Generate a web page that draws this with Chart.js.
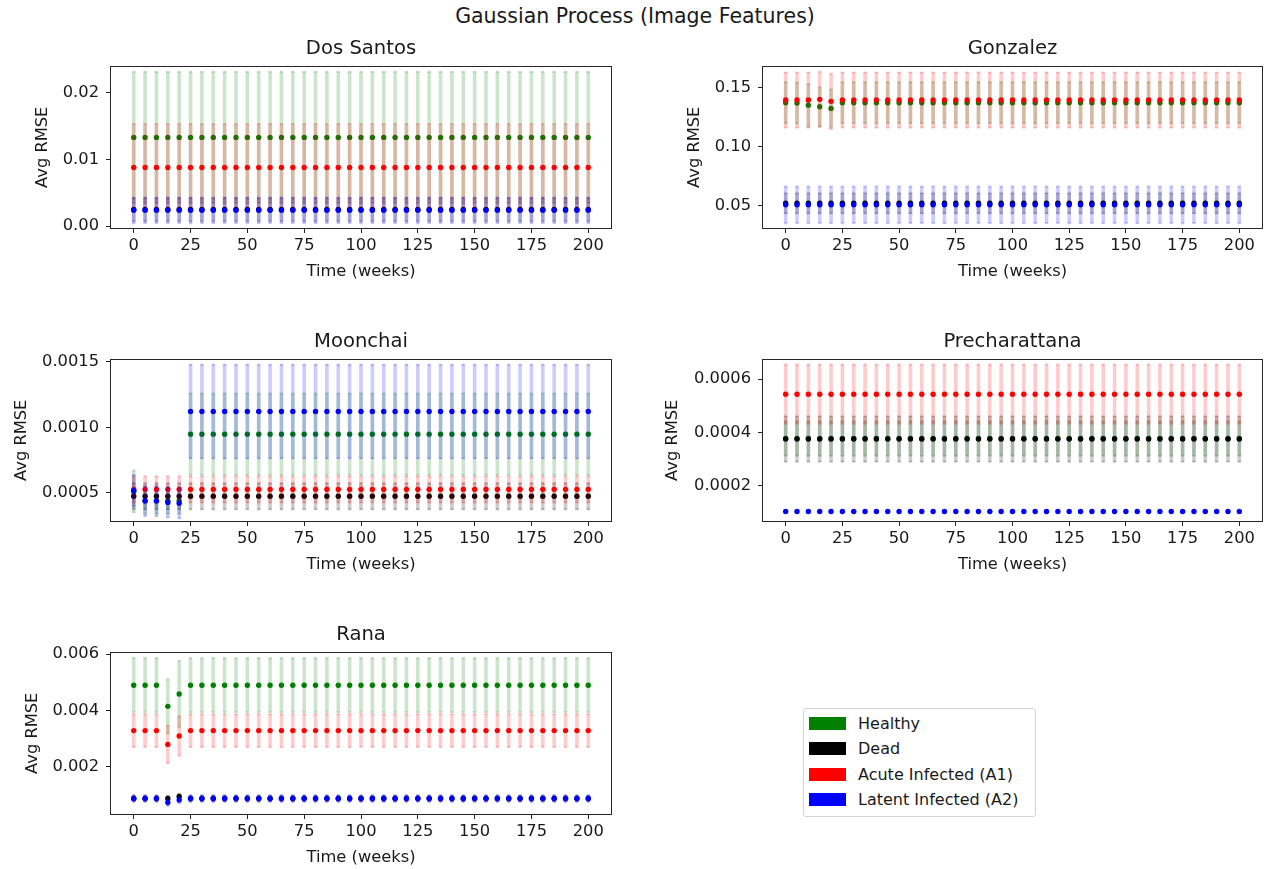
<!DOCTYPE html>
<html><head><meta charset="utf-8">
<script src="https://cdn.jsdelivr.net/npm/chart.js@4.4.0/dist/chart.umd.min.js"></script>
<style>
body{margin:0;background:#fff;width:1270px;height:869px;position:relative;overflow:hidden;font-family:"DejaVu Sans",sans-serif;}
canvas{position:absolute;}
#sup{position:absolute;left:0;width:1270px;top:4px;text-align:center;font-size:20.5px;color:#1a1a1a;line-height:24px;}
#legend{position:absolute;left:803px;top:708px;width:233px;height:109px;border:1px solid #d5d5d5;border-radius:3px;box-sizing:border-box;background:#fff;}
.item{position:absolute;left:0;height:22px;width:230px;}
.patch{position:absolute;left:5px;top:4px;width:37px;height:13px;}
.lab{position:absolute;left:54px;top:0;font-size:16px;line-height:22px;color:#1a1a1a;white-space:nowrap;}
</style>
</head><body>
<div id="sup">Gaussian Process (Image Features)</div>
<div id="legend"></div>
<script>
const weeks = [0,5,10,15,20,25,30,35,40,45,50,55,60,65,70,75,80,85,90,95,100,105,110,115,120,125,130,135,140,145,150,155,160,165,170,175,180,185,190,195,200];
const xTicks = [0,25,50,75,100,125,150,175,200];
const seriesNames = ['Healthy','Dead','Acute Infected (A1)','Latent Infected (A2)'];

// Dos Santos
const dsYTicks = [0, 0.01, 0.02];
const dsYLabels = ['0.00','0.01','0.02'];
const dsHealthyMean = [0.0133,0.0133,0.0133,0.0133,0.0133,0.0133,0.0133,0.0133,0.0133,0.0133,0.0133,0.0133,0.0133,0.0133,0.0133,0.0133,0.0133,0.0133,0.0133,0.0133,0.0133,0.0133,0.0133,0.0133,0.0133,0.0133,0.0133,0.0133,0.0133,0.0133,0.0133,0.0133,0.0133,0.0133,0.0133,0.0133,0.0133,0.0133,0.0133,0.0133,0.0133];
const dsHealthyStd = [0.0098,0.0098,0.0098,0.0098,0.0098,0.0098,0.0098,0.0098,0.0098,0.0098,0.0098,0.0098,0.0098,0.0098,0.0098,0.0098,0.0098,0.0098,0.0098,0.0098,0.0098,0.0098,0.0098,0.0098,0.0098,0.0098,0.0098,0.0098,0.0098,0.0098,0.0098,0.0098,0.0098,0.0098,0.0098,0.0098,0.0098,0.0098,0.0098,0.0098,0.0098];
const dsDeadMean = [0.0025,0.0025,0.0025,0.0025,0.0025,0.0025,0.0025,0.0025,0.0025,0.0025,0.0025,0.0025,0.0025,0.0025,0.0025,0.0025,0.0025,0.0025,0.0025,0.0025,0.0025,0.0025,0.0025,0.0025,0.0025,0.0025,0.0025,0.0025,0.0025,0.0025,0.0025,0.0025,0.0025,0.0025,0.0025,0.0025,0.0025,0.0025,0.0025,0.0025,0.0025];
const dsDeadStd = [0.0017,0.0017,0.0017,0.0017,0.0017,0.0017,0.0017,0.0017,0.0017,0.0017,0.0017,0.0017,0.0017,0.0017,0.0017,0.0017,0.0017,0.0017,0.0017,0.0017,0.0017,0.0017,0.0017,0.0017,0.0017,0.0017,0.0017,0.0017,0.0017,0.0017,0.0017,0.0017,0.0017,0.0017,0.0017,0.0017,0.0017,0.0017,0.0017,0.0017,0.0017];
const dsAcuteMean = [0.0088,0.0088,0.0088,0.0088,0.0088,0.0088,0.0088,0.0088,0.0088,0.0088,0.0088,0.0088,0.0088,0.0088,0.0088,0.0088,0.0088,0.0088,0.0088,0.0088,0.0088,0.0088,0.0088,0.0088,0.0088,0.0088,0.0088,0.0088,0.0088,0.0088,0.0088,0.0088,0.0088,0.0088,0.0088,0.0088,0.0088,0.0088,0.0088,0.0088,0.0088];
const dsAcuteStd = [0.0065,0.0065,0.0065,0.0065,0.0065,0.0065,0.0065,0.0065,0.0065,0.0065,0.0065,0.0065,0.0065,0.0065,0.0065,0.0065,0.0065,0.0065,0.0065,0.0065,0.0065,0.0065,0.0065,0.0065,0.0065,0.0065,0.0065,0.0065,0.0065,0.0065,0.0065,0.0065,0.0065,0.0065,0.0065,0.0065,0.0065,0.0065,0.0065,0.0065,0.0065];
const dsLatentMean = [0.0024,0.0024,0.0024,0.0024,0.0024,0.0024,0.0024,0.0024,0.0024,0.0024,0.0024,0.0024,0.0024,0.0024,0.0024,0.0024,0.0024,0.0024,0.0024,0.0024,0.0024,0.0024,0.0024,0.0024,0.0024,0.0024,0.0024,0.0024,0.0024,0.0024,0.0024,0.0024,0.0024,0.0024,0.0024,0.0024,0.0024,0.0024,0.0024,0.0024,0.0024];
const dsLatentStd = [0.0019,0.0019,0.0019,0.0019,0.0019,0.0019,0.0019,0.0019,0.0019,0.0019,0.0019,0.0019,0.0019,0.0019,0.0019,0.0019,0.0019,0.0019,0.0019,0.0019,0.0019,0.0019,0.0019,0.0019,0.0019,0.0019,0.0019,0.0019,0.0019,0.0019,0.0019,0.0019,0.0019,0.0019,0.0019,0.0019,0.0019,0.0019,0.0019,0.0019,0.0019];

// Gonzalez
const gzYTicks = [0.05, 0.10, 0.15];
const gzYLabels = ['0.05','0.10','0.15'];
const gzHealthyMean = [0.1372,0.1370,0.1352,0.1338,0.1324,0.1372,0.1372,0.1372,0.1372,0.1372,0.1372,0.1372,0.1372,0.1372,0.1372,0.1372,0.1372,0.1372,0.1372,0.1372,0.1372,0.1372,0.1372,0.1372,0.1372,0.1372,0.1372,0.1372,0.1372,0.1372,0.1372,0.1372,0.1372,0.1372,0.1372,0.1372,0.1372,0.1372,0.1372,0.1372,0.1372];
const gzHealthyStd = [0.0175,0.0175,0.0180,0.0165,0.0160,0.0175,0.0175,0.0175,0.0175,0.0175,0.0175,0.0175,0.0175,0.0175,0.0175,0.0175,0.0175,0.0175,0.0175,0.0175,0.0175,0.0175,0.0175,0.0175,0.0175,0.0175,0.0175,0.0175,0.0175,0.0175,0.0175,0.0175,0.0175,0.0175,0.0175,0.0175,0.0175,0.0175,0.0175,0.0175,0.0175];
const gzDeadMean = [0.0517,0.0517,0.0517,0.0517,0.0517,0.0517,0.0517,0.0517,0.0517,0.0517,0.0517,0.0517,0.0517,0.0517,0.0517,0.0517,0.0517,0.0517,0.0517,0.0517,0.0517,0.0517,0.0517,0.0517,0.0517,0.0517,0.0517,0.0517,0.0517,0.0517,0.0517,0.0517,0.0517,0.0517,0.0517,0.0517,0.0517,0.0517,0.0517,0.0517,0.0517];
const gzDeadStd = [0.0085,0.0085,0.0085,0.0085,0.0085,0.0085,0.0085,0.0085,0.0085,0.0085,0.0085,0.0085,0.0085,0.0085,0.0085,0.0085,0.0085,0.0085,0.0085,0.0085,0.0085,0.0085,0.0085,0.0085,0.0085,0.0085,0.0085,0.0085,0.0085,0.0085,0.0085,0.0085,0.0085,0.0085,0.0085,0.0085,0.0085,0.0085,0.0085,0.0085,0.0085];
const gzAcuteMean = [0.1395,0.1395,0.1395,0.1401,0.1384,0.1395,0.1395,0.1395,0.1395,0.1395,0.1395,0.1395,0.1395,0.1395,0.1395,0.1395,0.1395,0.1395,0.1395,0.1395,0.1395,0.1395,0.1395,0.1395,0.1395,0.1395,0.1395,0.1395,0.1395,0.1395,0.1395,0.1395,0.1395,0.1395,0.1395,0.1395,0.1395,0.1395,0.1395,0.1395,0.1395];
const gzAcuteStd = [0.0235,0.0235,0.0235,0.0235,0.0235,0.0235,0.0235,0.0235,0.0235,0.0235,0.0235,0.0235,0.0235,0.0235,0.0235,0.0235,0.0235,0.0235,0.0235,0.0235,0.0235,0.0235,0.0235,0.0235,0.0235,0.0235,0.0235,0.0235,0.0235,0.0235,0.0235,0.0235,0.0235,0.0235,0.0235,0.0235,0.0235,0.0235,0.0235,0.0235,0.0235];
const gzLatentMean = [0.0505,0.0505,0.0505,0.0505,0.0505,0.0505,0.0505,0.0505,0.0505,0.0505,0.0505,0.0505,0.0505,0.0505,0.0505,0.0505,0.0505,0.0505,0.0505,0.0505,0.0505,0.0505,0.0505,0.0505,0.0505,0.0505,0.0505,0.0505,0.0505,0.0505,0.0505,0.0505,0.0505,0.0505,0.0505,0.0505,0.0505,0.0505,0.0505,0.0505,0.0505];
const gzLatentStd = [0.0155,0.0155,0.0155,0.0155,0.0155,0.0155,0.0155,0.0155,0.0155,0.0155,0.0155,0.0155,0.0155,0.0155,0.0155,0.0155,0.0155,0.0155,0.0155,0.0155,0.0155,0.0155,0.0155,0.0155,0.0155,0.0155,0.0155,0.0155,0.0155,0.0155,0.0155,0.0155,0.0155,0.0155,0.0155,0.0155,0.0155,0.0155,0.0155,0.0155,0.0155];

// Moonchai
const mcYTicks = [0.0005, 0.0010, 0.0015];
const mcYLabels = ['0.0005','0.0010','0.0015'];
const mcHealthyMean = [0.00051,0.00044,0.00044,0.00044,0.00044,0.000948,0.000948,0.000948,0.000948,0.000948,0.000948,0.000948,0.000948,0.000948,0.000948,0.000948,0.000948,0.000948,0.000948,0.000948,0.000948,0.000948,0.000948,0.000948,0.000948,0.000948,0.000948,0.000948,0.000948,0.000948,0.000948,0.000948,0.000948,0.000948,0.000948,0.000948,0.000948,0.000948,0.000948,0.000948,0.000948];
const mcHealthyStd = [0.00016,0.0001,0.0001,0.0001,0.0001,0.00031,0.00031,0.00031,0.00031,0.00031,0.00031,0.00031,0.00031,0.00031,0.00031,0.00031,0.00031,0.00031,0.00031,0.00031,0.00031,0.00031,0.00031,0.00031,0.00031,0.00031,0.00031,0.00031,0.00031,0.00031,0.00031,0.00031,0.00031,0.00031,0.00031,0.00031,0.00031,0.00031,0.00031,0.00031,0.00031];
const mcDeadMean = [0.000473,0.000473,0.000473,0.000473,0.000473,0.000473,0.000473,0.000473,0.000473,0.000473,0.000473,0.000473,0.000473,0.000473,0.000473,0.000473,0.000473,0.000473,0.000473,0.000473,0.000473,0.000473,0.000473,0.000473,0.000473,0.000473,0.000473,0.000473,0.000473,0.000473,0.000473,0.000473,0.000473,0.000473,0.000473,0.000473,0.000473,0.000473,0.000473,0.000473,0.000473];
const mcDeadStd = [0.0001,0.0001,0.0001,0.0001,0.0001,0.0001,0.0001,0.0001,0.0001,0.0001,0.0001,0.0001,0.0001,0.0001,0.0001,0.0001,0.0001,0.0001,0.0001,0.0001,0.0001,0.0001,0.0001,0.0001,0.0001,0.0001,0.0001,0.0001,0.0001,0.0001,0.0001,0.0001,0.0001,0.0001,0.0001,0.0001,0.0001,0.0001,0.0001,0.0001,0.0001];
const mcAcuteMean = [0.000526,0.000526,0.000526,0.000526,0.000526,0.000526,0.000526,0.000526,0.000526,0.000526,0.000526,0.000526,0.000526,0.000526,0.000526,0.000526,0.000526,0.000526,0.000526,0.000526,0.000526,0.000526,0.000526,0.000526,0.000526,0.000526,0.000526,0.000526,0.000526,0.000526,0.000526,0.000526,0.000526,0.000526,0.000526,0.000526,0.000526,0.000526,0.000526,0.000526,0.000526];
const mcAcuteStd = [0.0001,0.0001,0.0001,0.0001,0.0001,0.0001,0.0001,0.0001,0.0001,0.0001,0.0001,0.0001,0.0001,0.0001,0.0001,0.0001,0.0001,0.0001,0.0001,0.0001,0.0001,0.0001,0.0001,0.0001,0.0001,0.0001,0.0001,0.0001,0.0001,0.0001,0.0001,0.0001,0.0001,0.0001,0.0001,0.0001,0.0001,0.0001,0.0001,0.0001,0.0001];
const mcLatentMean = [0.000516,0.000437,0.000436,0.000426,0.00042,0.001121,0.001121,0.001121,0.001121,0.001121,0.001121,0.001121,0.001121,0.001121,0.001121,0.001121,0.001121,0.001121,0.001121,0.001121,0.001121,0.001121,0.001121,0.001121,0.001121,0.001121,0.001121,0.001121,0.001121,0.001121,0.001121,0.001121,0.001121,0.001121,0.001121,0.001121,0.001121,0.001121,0.001121,0.001121,0.001121];
const mcLatentStd = [0.00012,0.000115,0.000115,0.000115,0.000115,0.000358,0.000358,0.000358,0.000358,0.000358,0.000358,0.000358,0.000358,0.000358,0.000358,0.000358,0.000358,0.000358,0.000358,0.000358,0.000358,0.000358,0.000358,0.000358,0.000358,0.000358,0.000358,0.000358,0.000358,0.000358,0.000358,0.000358,0.000358,0.000358,0.000358,0.000358,0.000358,0.000358,0.000358,0.000358,0.000358];

// Precharattana
const pcYTicks = [0.0002, 0.0004, 0.0006];
const pcYLabels = ['0.0002','0.0004','0.0006'];
const pcHealthyMean = [0.000377,0.000377,0.000377,0.000377,0.000377,0.000377,0.000377,0.000377,0.000377,0.000377,0.000377,0.000377,0.000377,0.000377,0.000377,0.000377,0.000377,0.000377,0.000377,0.000377,0.000377,0.000377,0.000377,0.000377,0.000377,0.000377,0.000377,0.000377,0.000377,0.000377,0.000377,0.000377,0.000377,0.000377,0.000377,0.000377,0.000377,0.000377,0.000377,0.000377,0.000377];
const pcHealthyStd = [0.000065,0.000065,0.000065,0.000065,0.000065,0.000065,0.000065,0.000065,0.000065,0.000065,0.000065,0.000065,0.000065,0.000065,0.000065,0.000065,0.000065,0.000065,0.000065,0.000065,0.000065,0.000065,0.000065,0.000065,0.000065,0.000065,0.000065,0.000065,0.000065,0.000065,0.000065,0.000065,0.000065,0.000065,0.000065,0.000065,0.000065,0.000065,0.000065,0.000065,0.000065];
const pcDeadMean = [0.000375,0.000375,0.000375,0.000375,0.000375,0.000375,0.000375,0.000375,0.000375,0.000375,0.000375,0.000375,0.000375,0.000375,0.000375,0.000375,0.000375,0.000375,0.000375,0.000375,0.000375,0.000375,0.000375,0.000375,0.000375,0.000375,0.000375,0.000375,0.000375,0.000375,0.000375,0.000375,0.000375,0.000375,0.000375,0.000375,0.000375,0.000375,0.000375,0.000375,0.000375];
const pcDeadStd = [0.000085,0.000085,0.000085,0.000085,0.000085,0.000085,0.000085,0.000085,0.000085,0.000085,0.000085,0.000085,0.000085,0.000085,0.000085,0.000085,0.000085,0.000085,0.000085,0.000085,0.000085,0.000085,0.000085,0.000085,0.000085,0.000085,0.000085,0.000085,0.000085,0.000085,0.000085,0.000085,0.000085,0.000085,0.000085,0.000085,0.000085,0.000085,0.000085,0.000085,0.000085];
const pcAcuteMean = [0.000543,0.000543,0.000543,0.000543,0.000543,0.000543,0.000543,0.000543,0.000543,0.000543,0.000543,0.000543,0.000543,0.000543,0.000543,0.000543,0.000543,0.000543,0.000543,0.000543,0.000543,0.000543,0.000543,0.000543,0.000543,0.000543,0.000543,0.000543,0.000543,0.000543,0.000543,0.000543,0.000543,0.000543,0.000543,0.000543,0.000543,0.000543,0.000543,0.000543,0.000543];
const pcAcuteStd = [0.000111,0.000111,0.000111,0.000111,0.000111,0.000111,0.000111,0.000111,0.000111,0.000111,0.000111,0.000111,0.000111,0.000111,0.000111,0.000111,0.000111,0.000111,0.000111,0.000111,0.000111,0.000111,0.000111,0.000111,0.000111,0.000111,0.000111,0.000111,0.000111,0.000111,0.000111,0.000111,0.000111,0.000111,0.000111,0.000111,0.000111,0.000111,0.000111,0.000111,0.000111];
const pcLatentMean = [0.000103,0.000103,0.000103,0.000103,0.000103,0.000103,0.000103,0.000103,0.000103,0.000103,0.000103,0.000103,0.000103,0.000103,0.000103,0.000103,0.000103,0.000103,0.000103,0.000103,0.000103,0.000103,0.000103,0.000103,0.000103,0.000103,0.000103,0.000103,0.000103,0.000103,0.000103,0.000103,0.000103,0.000103,0.000103,0.000103,0.000103,0.000103,0.000103,0.000103,0.000103];
const pcLatentStd = [0.000004,0.000004,0.000004,0.000004,0.000004,0.000004,0.000004,0.000004,0.000004,0.000004,0.000004,0.000004,0.000004,0.000004,0.000004,0.000004,0.000004,0.000004,0.000004,0.000004,0.000004,0.000004,0.000004,0.000004,0.000004,0.000004,0.000004,0.000004,0.000004,0.000004,0.000004,0.000004,0.000004,0.000004,0.000004,0.000004,0.000004,0.000004,0.000004,0.000004,0.000004];

// Rana
const rnYTicks = [0.002, 0.004, 0.006];
const rnYLabels = ['0.002','0.004','0.006'];
const rnHealthyMean = [0.0049,0.0049,0.0049,0.00415,0.00459,0.0049,0.0049,0.0049,0.0049,0.0049,0.0049,0.0049,0.0049,0.0049,0.0049,0.0049,0.0049,0.0049,0.0049,0.0049,0.0049,0.0049,0.0049,0.0049,0.0049,0.0049,0.0049,0.0049,0.0049,0.0049,0.0049,0.0049,0.0049,0.0049,0.0049,0.0049,0.0049,0.0049,0.0049,0.0049,0.0049];
const rnHealthyStd = [0.00096,0.00096,0.00096,0.00095,0.00117,0.00096,0.00096,0.00096,0.00096,0.00096,0.00096,0.00096,0.00096,0.00096,0.00096,0.00096,0.00096,0.00096,0.00096,0.00096,0.00096,0.00096,0.00096,0.00096,0.00096,0.00096,0.00096,0.00096,0.00096,0.00096,0.00096,0.00096,0.00096,0.00096,0.00096,0.00096,0.00096,0.00096,0.00096,0.00096,0.00096];
const rnDeadMean = [0.00088,0.00088,0.00088,0.00088,0.00095,0.00088,0.00088,0.00088,0.00088,0.00088,0.00088,0.00088,0.00088,0.00088,0.00088,0.00088,0.00088,0.00088,0.00088,0.00088,0.00088,0.00088,0.00088,0.00088,0.00088,0.00088,0.00088,0.00088,0.00088,0.00088,0.00088,0.00088,0.00088,0.00088,0.00088,0.00088,0.00088,0.00088,0.00088,0.00088,0.00088];
const rnDeadStd = [0.0001,0.0001,0.0001,0.0001,0.0001,0.0001,0.0001,0.0001,0.0001,0.0001,0.0001,0.0001,0.0001,0.0001,0.0001,0.0001,0.0001,0.0001,0.0001,0.0001,0.0001,0.0001,0.0001,0.0001,0.0001,0.0001,0.0001,0.0001,0.0001,0.0001,0.0001,0.0001,0.0001,0.0001,0.0001,0.0001,0.0001,0.0001,0.0001,0.0001,0.0001];
const rnAcuteMean = [0.00329,0.00329,0.00329,0.0028,0.0031,0.00329,0.00329,0.00329,0.00329,0.00329,0.00329,0.00329,0.00329,0.00329,0.00329,0.00329,0.00329,0.00329,0.00329,0.00329,0.00329,0.00329,0.00329,0.00329,0.00329,0.00329,0.00329,0.00329,0.00329,0.00329,0.00329,0.00329,0.00329,0.00329,0.00329,0.00329,0.00329,0.00329,0.00329,0.00329,0.00329];
const rnAcuteStd = [0.00058,0.00058,0.00058,0.00066,0.0007,0.00058,0.00058,0.00058,0.00058,0.00058,0.00058,0.00058,0.00058,0.00058,0.00058,0.00058,0.00058,0.00058,0.00058,0.00058,0.00058,0.00058,0.00058,0.00058,0.00058,0.00058,0.00058,0.00058,0.00058,0.00058,0.00058,0.00058,0.00058,0.00058,0.00058,0.00058,0.00058,0.00058,0.00058,0.00058,0.00058];
const rnLatentMean = [0.00088,0.00088,0.00088,0.00074,0.00083,0.00088,0.00088,0.00088,0.00088,0.00088,0.00088,0.00088,0.00088,0.00088,0.00088,0.00088,0.00088,0.00088,0.00088,0.00088,0.00088,0.00088,0.00088,0.00088,0.00088,0.00088,0.00088,0.00088,0.00088,0.00088,0.00088,0.00088,0.00088,0.00088,0.00088,0.00088,0.00088,0.00088,0.00088,0.00088,0.00088];
const rnLatentStd = [0.00012,0.00012,0.00012,0.00012,0.00012,0.00012,0.00012,0.00012,0.00012,0.00012,0.00012,0.00012,0.00012,0.00012,0.00012,0.00012,0.00012,0.00012,0.00012,0.00012,0.00012,0.00012,0.00012,0.00012,0.00012,0.00012,0.00012,0.00012,0.00012,0.00012,0.00012,0.00012,0.00012,0.00012,0.00012,0.00012,0.00012,0.00012,0.00012,0.00012,0.00012];

// ---------- styling & layout ----------
const COLORS = ['#008000','#000000','#ff0000','#0000ff'];
const FAINT = ['rgba(0,128,0,0.2)','rgba(0,0,0,0.2)','rgba(255,0,0,0.2)','rgba(0,0,255,0.2)'];
const FONT = '"DejaVu Sans", sans-serif';
const TXT = '#1a1a1a';
const FS = 16.3;

const panels = [
  {title:'Dos Santos', L:111, R:615, T:67, B:228, ylabX:43, ymin:-0.00026, ymax:0.0239, yt:dsYTicks, yl:dsYLabels,
   m:[dsHealthyMean,dsDeadMean,dsAcuteMean,dsLatentMean], s:[dsHealthyStd,dsDeadStd,dsAcuteStd,dsLatentStd]},
  {title:'Gonzalez', L:763, R:1266, T:67, B:228, ylabX:695, ymin:0.0307, ymax:0.168, yt:gzYTicks, yl:gzYLabels,
   m:[gzHealthyMean,gzDeadMean,gzAcuteMean,gzLatentMean], s:[gzHealthyStd,gzDeadStd,gzAcuteStd,gzLatentStd]},
  {title:'Moonchai', L:111, R:615, T:360, B:521, ylabX:22, ymin:0.000284, ymax:0.001518, yt:mcYTicks, yl:mcYLabels,
   m:[mcHealthyMean,mcDeadMean,mcAcuteMean,mcLatentMean], s:[mcHealthyStd,mcDeadStd,mcAcuteStd,mcLatentStd]},
  {title:'Precharattana', L:763, R:1266, T:360, B:521, ylabX:673, ymin:0.0000674, ymax:0.000673, yt:pcYTicks, yl:pcYLabels,
   m:[pcHealthyMean,pcDeadMean,pcAcuteMean,pcLatentMean], s:[pcHealthyStd,pcDeadStd,pcAcuteStd,pcLatentStd]},
  {title:'Rana', L:111, R:615, T:653, B:814, ylabX:33, ymin:0.00033, ymax:0.00606, yt:rnYTicks, yl:rnYLabels,
   m:[rnHealthyMean,rnDeadMean,rnAcuteMean,rnLatentMean], s:[rnHealthyStd,rnDeadStd,rnAcuteStd,rnLatentStd]}
];

const frame = {id:'frame', afterDraw(c){
  const a=c.chartArea, x=c.ctx; x.save(); x.strokeStyle='#262626'; x.lineWidth=1;
  x.strokeRect(Math.round(a.left)-0.5, Math.round(a.top)-0.5, Math.round(a.right-a.left)+1, Math.round(a.bottom-a.top)+1);
  x.restore();
}};

function buildDatasets(means, stds){
  const out=[];
  means.forEach((m,k)=>{
    const sd=stds[k];
    out.push({type:'bar', label:seriesNames[k]+' err', data:weeks.map((t,i)=>({x:t,y:[m[i]-sd[i],m[i]+sd[i]]})),
      backgroundColor:FAINT[k], borderWidth:0, barThickness:3, grouped:false, order:100-k*3});
    out.push({type:'line', label:seriesNames[k]+' caps', showLine:false,
      data:weeks.flatMap((t,i)=>[{x:t,y:m[i]-sd[i]},{x:t,y:m[i]+sd[i]}]),
      pointStyle:'line', pointRadius:1.5, pointBorderWidth:2, pointBorderColor:FAINT[k], pointBackgroundColor:FAINT[k], order:99-k*3});
    out.push({type:'line', label:seriesNames[k], showLine:false, data:weeks.map((t,i)=>({x:t,y:m[i]})),
      pointStyle:'circle', pointRadius:2.7, pointBorderWidth:0, pointBackgroundColor:COLORS[k], order:98-k*3});
  });
  return out;
}

panels.forEach(p=>{
  const cLeft = Math.round(p.ylabX - FS*0.6);
  const yW = p.L - cLeft;
  const cTop = p.T - 40;
  const xH = 55;
  const cv = document.createElement('canvas');
  cv.width = yW + (p.R - p.L) + 2;
  cv.height = 40 + (p.B - p.T) + xH;
  cv.style.left = cLeft+'px'; cv.style.top = cTop+'px';
  document.body.appendChild(cv);
  new Chart(cv, {
    type:'bar',
    data:{datasets:buildDatasets(p.m, p.s)},
    options:{
      responsive:false, animation:false, devicePixelRatio:1,
      layout:{padding:{left:0,right:2,top:0,bottom:0}},
      plugins:{legend:{display:false}, tooltip:{enabled:false},
        title:{display:true, fullSize:false, text:p.title, color:TXT, font:{family:FONT, size:19.6, weight:'normal', lineHeight:1.1}, padding:{top:11,bottom:7}}},
      scales:{
        x:{type:'linear', min:-10, max:210, offset:false,
          afterBuildTicks(s){ s.ticks = xTicks.map(v=>({value:v})); },
          afterFit(s){ s.height = xH; },
          grid:{drawOnChartArea:false, drawTicks:true, tickLength:5, color:'#262626', offset:false},
          border:{display:false},
          ticks:{autoSkip:false, maxRotation:0, padding:3, color:TXT, font:{family:FONT,size:FS}, callback:(v,i)=>String(xTicks[i])},
          title:{display:true, text:'Time (weeks)', color:TXT, font:{family:FONT,size:FS}, padding:{top:0,bottom:1}}},
        y:{type:'linear', min:p.ymin, max:p.ymax,
          afterBuildTicks(s){ s.ticks = p.yt.map(v=>({value:v})); },
          afterFit(s){ s.width = yW; },
          grid:{drawOnChartArea:false, drawTicks:true, tickLength:5, color:'#262626'},
          border:{display:false},
          ticks:{autoSkip:false, padding:7, color:TXT, font:{family:FONT,size:FS}, callback:(v,i)=>p.yl[i]},
          title:{display:true, text:'Avg RMSE', color:TXT, font:{family:FONT,size:FS}, padding:{top:0,bottom:0}}}
      }
    },
    plugins:[frame]
  });
});

// legend
const lg = document.getElementById('legend');
const rowTops = [4, 29, 55, 80];
seriesNames.forEach((n,k)=>{
  const d=document.createElement('div'); d.className='item'; d.style.top=rowTops[k]+'px';
  d.innerHTML='<div class="patch" style="background:'+COLORS[k]+'"></div><div class="lab">'+n+'</div>';
  lg.appendChild(d);
});
</script>
</body></html>
